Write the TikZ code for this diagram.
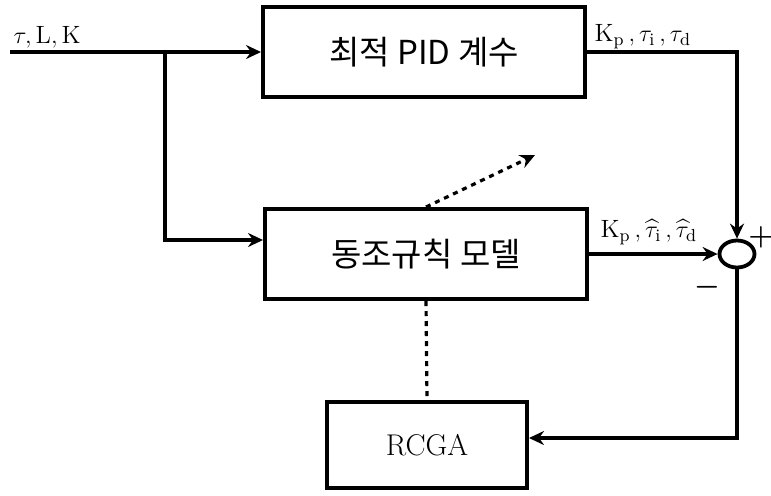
\documentclass[tikz,border=0pt]{standalone}
\usepackage{amsmath, amssymb}
\usepackage{fontspec}
\newfontfamily\kofont{Noto Sans CJK KR}
\usetikzlibrary{arrows.meta, positioning, shapes.geometric, calc}

\begin{document}
\begin{tikzpicture}[x=0.5pt, y=-0.5pt, line width=1.6pt,
      block/.style={rectangle, draw, line width=2pt, minimum width=161pt, minimum height=45pt, font=\kofont\fontsize{16.5}{19}\selectfont},
      gablock/.style={rectangle, draw, line width=2pt, minimum width=100pt, minimum height=43pt, font=\fontsize{15}{17}\selectfont},
      sumpt/.style={ellipse, draw, line width=1.9pt, minimum width=17.5pt, minimum height=13.5pt, inner sep=0pt},
      arr/.style={-{Stealth[length=7.5pt, width=7pt, inset=2.5pt]}},
      dots/.style={dash pattern=on 2.5pt off 2.5pt},
      lbl/.style={font=\fontsize{12.5}{14}\selectfont, inner sep=1pt}]
      \useasboundingbox (0,0) rectangle (771,495);

      \node[block] (opt) at (424,52) {최적 PID 계수};
      \node[block] (model) at (426,254) {동조규칙 모델};
      \node[gablock] (rcga) at (427,445) {RCGA};
      \node[sumpt] (sum) at (737,254) {};

      \coordinate (in) at (10,52);
      \coordinate (branch) at (165,52);
      \coordinate (adapt) at (535,155);

      % inputs
      \draw[arr] (in) -- (opt.west);
      \draw[arr] (branch) |- ([yshift=7pt]model.west);
      \node[lbl, anchor=south west] at (in) {$\tau, \mathrm{L}, \mathrm{K}$};

      % outputs to the summing point
      \draw[arr] (opt.east) -| (sum.north);
      \draw[arr] (model.east) -- (sum.west);
      \node[lbl, anchor=south west] at ([xshift=2pt]opt.east) {$\mathrm{K_p}\,, \tau_\mathrm{i}\,, \tau_\mathrm{d}$};
      \node[lbl, anchor=south west] at ([xshift=4pt, yshift=3pt]model.east) {$\mathrm{K_p}\,, \widehat{\tau}_\mathrm{i}\,, \widehat{\tau}_\mathrm{d}$};
      \node[font=\fontsize{15}{15}\selectfont, inner sep=0pt] (plus) at (761,237) {$\boldsymbol{+}$};
      \node[font=\fontsize{15}{15}\selectfont, inner sep=0pt] (minus) at (707,287) {$\boldsymbol{-}$};

      % feedback and tuning
      \draw[arr] (sum.south) |- ([yshift=3.5pt]rcga.east);
      \draw[dots] (model.south) -- (rcga.north);
      \draw[dots, arr] (model.north) -- (adapt);
    \end{tikzpicture}
\end{document}
